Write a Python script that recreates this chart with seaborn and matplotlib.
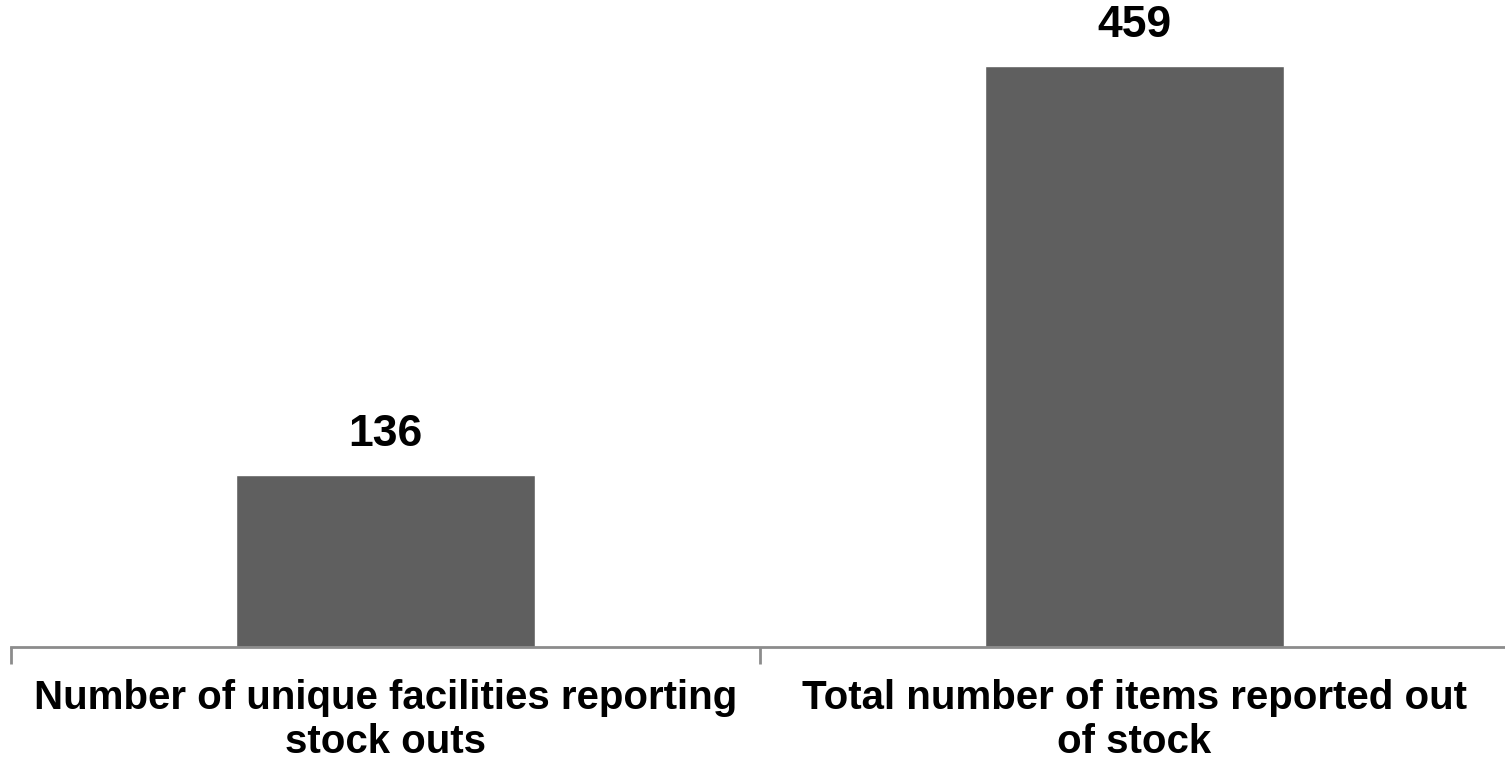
import pandas as pd
import matplotlib
matplotlib.use('Agg')
import matplotlib.pyplot as plt
import seaborn as sns

# chart data
categories = ['Number of unique facilities reporting\nstock outs',
              'Total number of items reported out\nof stock']
counts = [136, 459]

df = pd.DataFrame({'category': categories, 'count': counts})

sns.set_style('white')
plt.rcParams['font.family'] = ['Liberation Sans', 'DejaVu Sans']

fig = plt.figure(figsize=(15.05, 7.65), dpi=100)
ax = fig.add_axes([11 / 1505, 118 / 765, 1498 / 1505, 647 / 765])

sns.barplot(data=df, x='category', y='count', color='#5f5f5f',
            saturation=1, width=0.4, ax=ax)
ax.set_ylim(0, 511)
ax.set_xlim(-0.5, 1.5)

for c in ax.containers:
    ax.bar_label(c, padding=14, fontsize=32, fontweight='bold', color='black')

for s in ['top', 'right', 'left']:
    ax.spines[s].set_visible(False)
ax.spines['bottom'].set_color('#8c8c8c')
ax.spines['bottom'].set_linewidth(2)
ax.set_yticks([])
ax.set_xlabel('')
ax.set_ylabel('')

# ticks between the categories, excel style
ax.set_xticks([-0.5, 0.5, 1.5], minor=True)
ax.tick_params(axis='x', which='minor', length=12, width=2, color='#8c8c8c', bottom=True)
ax.tick_params(axis='x', which='major', length=0, pad=23, labelsize=29, labelcolor='black')
for t in ax.get_xticklabels():
    t.set_fontweight('bold')
    t.set_multialignment('center')

fig.savefig('out.png', dpi=100)
